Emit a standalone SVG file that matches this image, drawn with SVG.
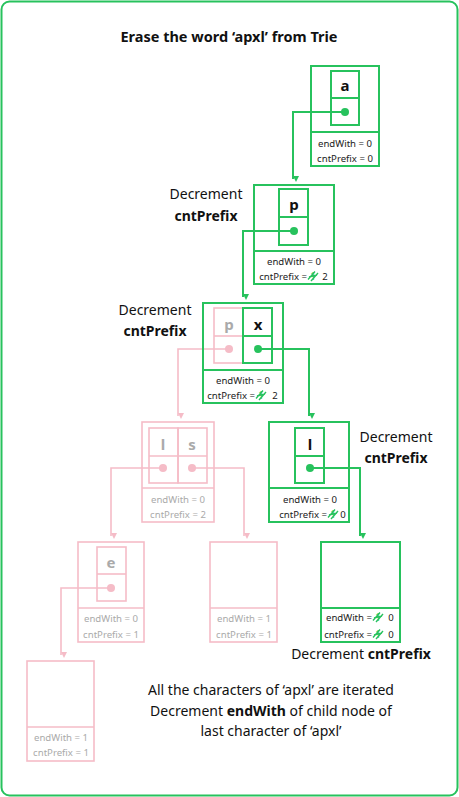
<svg xmlns="http://www.w3.org/2000/svg" xmlns:xlink="http://www.w3.org/1999/xlink" width="459" height="797" viewBox="0 0 459 797">
<style>
.g{fill:none;stroke:#27c25d;stroke-width:2}
.pk{fill:none;stroke:#f5bcc7;stroke-width:1.6}
.ln{fill:none;stroke:#27c25d;stroke-width:2}
.lp{fill:none;stroke:#f5bcc7;stroke-width:1.6}
text{font-family:"Noto Sans","Open Sans",sans-serif}
.t{font-size:9.6px;fill:#222;text-anchor:middle}
.tg{font-size:9.6px;fill:#aaa;text-anchor:middle}
.ch{font-size:15px;font-weight:bold;fill:#111;text-anchor:middle}
.chg{font-size:15px;font-weight:bold;fill:#aaa;text-anchor:middle}
.lab{font-size:14px;fill:#111;text-anchor:middle}
.b{font-weight:bold}
.dg{fill:#27c25d}
.dp{fill:#f5bcc7}
</style>
<defs>
<marker id="ag" viewBox="0 0 10 10" refX="5" refY="10" markerWidth="6" markerHeight="6" orient="auto-start-reverse" markerUnits="userSpaceOnUse"><path d="M0,0 L10,0 L5,10 Z" fill="#27c25d" transform="rotate(-90 5 5)"/></marker>
<marker id="ap" viewBox="0 0 10 10" refX="5" refY="10" markerWidth="6" markerHeight="6" orient="auto-start-reverse" markerUnits="userSpaceOnUse"><path d="M0,0 L10,0 L5,10 Z" fill="#f5bcc7" transform="rotate(-90 5 5)"/></marker>
<g id="strike"><text x="0" y="0" style="font-size:10px;fill:#27c25d;text-anchor:middle">1</text><path d="M-5,-0.5 L2,-8.5 M-2,1 L5,-7 M-4,-3 L4,-5" stroke="#27c25d" stroke-width="1.4" fill="none"/></g>
</defs>
<rect x="1.5" y="1.5" width="456" height="794" rx="8" fill="#fff" stroke="#27c25d" stroke-width="2"/>
<text x="229" y="42" style="font-size:14.5px;font-weight:bold;fill:#111;text-anchor:middle">Erase the word ‘apxl’ from Trie</text>

<g id="connectors">
<path class="ln" d="M345,112 H293 V179" marker-end="url(#ag)"/>
<path class="ln" d="M294,231 H243 V297" marker-end="url(#ag)"/>
<path class="ln" d="M258,349 H309 V416" marker-end="url(#ag)"/>
<path class="lp" d="M229,349 H178 V416" marker-end="url(#ap)"/>
<path class="lp" d="M163,468 H111 V536" marker-end="url(#ap)"/>
<path class="lp" d="M192,468 H244 V536" marker-end="url(#ap)"/>
<path class="ln" d="M310,468 H360 V536" marker-end="url(#ag)"/>
<path class="lp" d="M111,588 H61 V655" marker-end="url(#ap)"/>
</g>

<g id="node-a">
<rect class="g" x="311" y="66" width="68" height="100"/>
<line class="g" x1="311" y1="132" x2="379" y2="132"/>
<rect class="g" x="331" y="71" width="28" height="54"/>
<line class="g" x1="331" y1="98" x2="359" y2="98"/>
<text class="ch" x="345" y="91">a</text>
<circle class="dg" cx="345" cy="112" r="4"/>
<text class="t" x="345" y="147">endWith = 0</text>
<text class="t" x="345" y="162">cntPrefix = 0</text>
</g>

<g id="node-p">
<rect class="g" x="254" y="185" width="80" height="99"/>
<line class="g" x1="254" y1="251" x2="334" y2="251"/>
<rect class="g" x="279" y="189" width="29" height="56"/>
<line class="g" x1="279" y1="217" x2="308" y2="217"/>
<text class="ch" x="294" y="210">p</text>
<circle class="dg" cx="294" cy="231" r="4"/>
<text class="t" x="294" y="265">endWith = 0</text>
<text class="t" x="307" y="280" style="text-anchor:end">cntPrefix =</text>
<use xlink:href="#strike" x="313" y="280"/>
<text class="t" x="325" y="280">2</text>
<text class="lab" x="206" y="199">Decrement</text>
<text class="lab b" x="206" y="221">cntPrefix</text>
</g>

<g id="node-px">
<rect class="g" x="203" y="303" width="80" height="100"/>
<line class="g" x1="203" y1="370" x2="283" y2="370"/>
<rect class="pk" x="214" y="308" width="29" height="55"/>
<line class="pk" x1="214" y1="336" x2="243" y2="336"/>
<text class="chg" x="229" y="330">p</text>
<circle class="dp" cx="229" cy="349" r="4"/>
<rect class="g" x="243" y="308" width="29" height="55"/>
<line class="g" x1="243" y1="336" x2="272" y2="336"/>
<text class="ch" x="258" y="330">x</text>
<circle class="dg" cx="258" cy="349" r="4"/>
<text class="t" x="243" y="384">endWith = 0</text>
<text class="t" x="255" y="399" style="text-anchor:end">cntPrefix =</text>
<use xlink:href="#strike" x="261" y="399"/>
<text class="t" x="275" y="399">2</text>
<text class="lab" x="155" y="315">Decrement</text>
<text class="lab b" x="155" y="336">cntPrefix</text>
</g>

<g id="node-ls">
<rect class="pk" x="142" y="422" width="72" height="100"/>
<line class="pk" x1="142" y1="488" x2="214" y2="488"/>
<rect class="pk" x="149" y="428" width="29" height="55"/>
<rect class="pk" x="178" y="428" width="29" height="55"/>
<line class="pk" x1="149" y1="456" x2="207" y2="456"/>
<text class="chg" x="163" y="450">l</text>
<text class="chg" x="192" y="450">s</text>
<circle class="dp" cx="163" cy="468" r="4"/>
<circle class="dp" cx="192" cy="468" r="4"/>
<text class="tg" x="178" y="503">endWith = 0</text>
<text class="tg" x="178" y="518">cntPrefix = 2</text>
</g>

<g id="node-l">
<rect class="g" x="269" y="422" width="80" height="100"/>
<line class="g" x1="269" y1="488" x2="349" y2="488"/>
<rect class="g" x="295" y="428" width="29" height="55"/>
<line class="g" x1="295" y1="456" x2="324" y2="456"/>
<text class="ch" x="310" y="450">l</text>
<circle class="dg" cx="310" cy="468" r="4"/>
<text class="t" x="310" y="503">endWith = 0</text>
<text class="t" x="327" y="518" style="text-anchor:end">cntPrefix =</text>
<use xlink:href="#strike" x="333" y="518"/>
<text class="t" x="343" y="518">0</text>
<text class="lab" x="396" y="442">Decrement</text>
<text class="lab b" x="396" y="463">cntPrefix</text>
</g>

<g id="node-e">
<rect class="pk" x="78" y="542" width="66" height="100"/>
<line class="pk" x1="78" y1="608" x2="144" y2="608"/>
<rect class="pk" x="97" y="547" width="29" height="54"/>
<line class="pk" x1="97" y1="574" x2="126" y2="574"/>
<text class="chg" x="111" y="568">e</text>
<circle class="dp" cx="111" cy="588" r="4"/>
<text class="tg" x="111" y="622">endWith = 0</text>
<text class="tg" x="111" y="638">cntPrefix = 1</text>
</g>

<g id="node-s-child">
<rect class="pk" x="210" y="542" width="67" height="100"/>
<line class="pk" x1="210" y1="608" x2="277" y2="608"/>
<text class="tg" x="244" y="622">endWith = 1</text>
<text class="tg" x="244" y="638">cntPrefix = 1</text>
</g>

<g id="node-final">
<rect class="g" x="321" y="542" width="79" height="100"/>
<line class="g" x1="321" y1="608" x2="400" y2="608"/>
<text class="t" x="372" y="621" style="text-anchor:end">endWith =</text>
<use xlink:href="#strike" x="378" y="621"/>
<text class="t" x="391" y="621">0</text>
<text class="t" x="372" y="638" style="text-anchor:end">cntPrefix =</text>
<use xlink:href="#strike" x="378" y="638"/>
<text class="t" x="391" y="638">0</text>
<text x="361" y="659" style="font-size:14px;fill:#111;text-anchor:middle">Decrement <tspan font-weight="bold">cntPrefix</tspan></text>
</g>

<g id="node-e-child">
<rect class="pk" x="27" y="661" width="67" height="100"/>
<line class="pk" x1="27" y1="727" x2="94" y2="727"/>
<text class="tg" x="61" y="741">endWith = 1</text>
<text class="tg" x="61" y="756">cntPrefix = 1</text>
</g>

<g id="note">
<text class="lab" x="271" y="695">All the characters of ‘apxl’ are iterated</text>
<text class="lab" x="271" y="716">Decrement <tspan font-weight="bold">endWith</tspan> of child node of</text>
<text class="lab" x="271" y="736">last character of ‘apxl’</text>
</g>
</svg>
